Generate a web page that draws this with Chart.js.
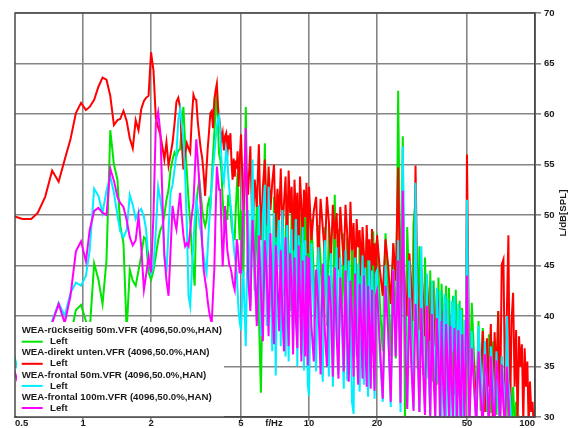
<!DOCTYPE html>
<html><head><meta charset="utf-8">
<script src="https://cdn.jsdelivr.net/npm/chart.js@4.4.1/dist/chart.umd.min.js"></script>
<style>html,body{margin:0;padding:0;background:#fff;}canvas{display:block;}</style>
</head><body>
<canvas id="c" width="569" height="428"></canvas>
<script>
// ---- frequency grid (Hz) ----
const freqLow = [
0.49,0.54,0.59,0.63,0.68,0.73,0.78,0.83,0.88,0.93,
0.98,1.03,1.07,1.12,1.17,1.22,1.27,1.32,1.37,1.42,
1.46,1.51,1.56,1.61,1.66,1.71,1.76,1.81,1.86,1.90,
1.95,2.00,2.05,2.10,2.15,2.20,2.25,2.29,2.34,2.39,
2.44,2.49,2.54,2.59,2.64,2.69,2.73,2.78,2.83,2.88,
2.93,2.98,3.03,3.08,3.12,3.17,3.22,3.27,3.32,3.37,
3.42,3.47,3.52,3.56,3.61,3.66,3.71,3.76,3.81,3.86,
3.91,3.96,4.00,4.05,4.10,4.15,4.20,4.25,4.30,4.35,
4.39,4.44,4.49,4.54,4.59,4.64,4.69,4.74,4.79,4.83,
4.88,4.93];
const freqHigh = [
5,5.125,5.25,5.375,5.5,5.625,5.75,5.875,6,6.125,
6.25,6.375,6.5,6.625,6.75,6.875,7,7.125,7.25,7.375,
7.5,7.625,7.75,7.875,8,8.125,8.25,8.375,8.5,8.625,
8.75,8.875,9,9.125,9.25,9.375,9.5,9.625,9.75,9.875,
10,10.25,10.5,10.75,11,11.25,11.5,11.75,12,12.25,
12.5,12.75,13,13.25,13.5,13.75,14,14.25,14.5,14.75,
15,15.25,15.5,15.75,16,16.25,16.5,16.75,17,17.25,
17.5,17.75,18,18.25,18.5,18.75,19,19.25,19.5,19.75,
20,20.6,21.2,21.8,22.4,23,23.6,24.2,24.8,25.4,
26,26.6,27.2,27.8,28.4,29,29.6,30.2,30.8,31.4,
32,32.6,33.2,33.8,34.4,35,35.6,36.2,36.8,37.4,
38,38.6,39.2,39.8,40.4,41,41.6,42.2,42.8,43.4,
44,44.6,45.2,45.8,46.4,47,47.6,48.2,48.8,49.4,
50,51.25,52.5,53.75,55,56.25,57.5,58.75,60,61.25,
62.5,63.75,65,66.25,67.5,68.75,70,71.25,72.5,73.75,
75,76.25,77.5,78.75,80,81.25,82.5,83.75,85,86.25,
87.5,88.75,90,91.25,92.5,93.75,95,96.25,97.5,98.75,
100];

// ---- series values (dB SPL) ----
const greenLow = [
28,29,30,31,32,33,34.5,36,38,40.6,
41.1,39.5,38.5,45.2,43.6,41.2,45.5,58.4,55.0,53.5,
49.0,47.2,38.5,44.6,43.5,43.0,44.5,46.0,47.8,47.6,
44.3,43.6,44.5,46.0,47.5,48.5,49.0,50.0,51.5,52.5,
54.5,55.5,56.2,55.8,56.4,56.5,58.5,60.7,57.0,54.2,
51.5,49.3,46.5,44.5,43.0,50.9,52.5,53.5,52.0,50.5,
49.5,48.9,49.5,50.9,51.5,50.5,53.5,56.0,58.1,60.5,
62.8,58.5,56.0,55.5,54.2,51.5,49.5,48.2,50.5,49.5,
52.0,51.0,50.9,49.0,48.2,47.6,47.6,50.5,52.6,54.2,
50.0,47.5];
const greenHigh = [
50.5,44.0,60.7,46.0,41.0,53.0,42.5,51.5,40.0,32.4,
45.0,57.1,46.5,52.5,44.0,39.5,51.8,42.5,52.2,47.0,
43.5,51.0,42.0,48.0,52.0,44.5,40.5,50.5,42.8,51.5,
46.0,43.0,50.8,41.5,50.2,44.5,40.8,51.0,43.0,49.5,
40.5,49.6,44.0,39.8,49.0,45.5,40.2,48.8,39.0,49.2,
44.5,38.8,52.0,40.0,48.6,45.0,38.5,48.2,39.2,47.8,
43.5,37.8,48.4,38.6,47.5,43.0,37.5,47.8,38.0,47.2,
42.5,37.0,47.6,34.4,46.8,41.5,36.2,48.4,35.8,47.0,
47.6,41.0,36.5,48.2,42.5,36.0,47.2,35.8,62.3,40.0,
57.8,30.0,48.8,42.0,35.2,49.2,51.4,34.8,46.9,40.5,
34.2,45.8,39.0,33.8,44.5,33.5,43.5,38.5,33.2,43.8,
33.0,43.2,37.5,32.8,43.0,32.6,42.8,37.0,32.5,42.0,
32.2,42.6,36.0,32.0,41.5,31.8,40.8,35.0,31.4,40.0,
40.5,31.0,41.3,36.0,30.8,39.5,30.6,38.8,34.5,30.5,
38.2,30.4,37.5,33.0,30.2,40.5,29.8,36.0,32.0,29.6,
35.2,29.4,34.0,29.2,33.0,29.0,31.5,28.5,29.5,28.0,
28.5,28.0,28.0,28.0,28.0,28.0,28.0,28.0,28.0,28.0,
28.0];

const redLow = [
49.9,49.6,49.6,50.2,51.8,54.4,53.3,55.5,57.5,60.1,
61.1,60.4,60.7,61.4,62.7,63.6,63.4,61.8,58.9,59.4,
59.5,60.3,59.3,57.6,56.6,59.4,58.4,60.5,61.3,61.6,
61.8,66.1,64.3,59.6,58.7,57.9,56.6,55.5,57.2,54.9,
56.0,57.2,59.0,61.2,61.6,60.6,57.5,54.5,56.0,57.1,
56.6,56.2,59.6,61.9,61.5,61.4,59.2,57.8,56.5,55.6,
54.0,51.9,54.6,56.5,58.2,60.1,60.3,58.6,61.4,62.3,
63.0,60.6,59.7,58.6,57.4,58.1,56.4,57.8,58.1,55.8,
57.9,56.5,58.1,55.2,53.5,55.6,53.8,55.4,54.6,56.3,
52.8,55.2];
const redHigh = [
58.0,50.5,55.2,52.0,56.8,48.0,53.5,50.8,57.0,47.5,
52.8,55.5,49.0,54.8,50.5,53.2,55.0,47.8,52.6,49.5,
54.6,48.2,51.2,53.8,47.0,54.4,50.2,52.8,46.5,53.5,
49.5,52.2,46.0,53.8,51.0,47.2,52.5,49.8,53.2,46.2,
52.8,47.5,50.4,51.8,45.2,51.6,48.8,46.0,51.8,49.2,
45.4,51.0,47.6,50.2,44.6,50.8,47.8,45.0,51.0,48.2,
44.2,51.3,46.5,49.2,43.6,49.6,46.8,48.5,44.0,48.8,
46.2,43.0,49.0,45.5,47.6,42.6,48.6,45.0,47.2,42.5,
48.0,44.5,42.0,47.6,45.0,41.2,47.2,43.5,54.7,40.5,
46.6,43.0,40.0,46.2,42.8,39.5,54.9,42.0,38.6,44.8,
41.5,38.0,44.0,40.8,37.5,43.4,40.0,37.0,42.6,39.2,
41.8,36.4,40.0,41.2,35.6,40.6,38.0,35.0,40.2,37.5,
39.6,34.6,37.8,39.0,34.2,38.6,36.5,33.8,38.2,36.0,
56.0,33.0,37.6,35.0,31.0,37.2,34.0,38.5,30.5,37.8,
33.0,39.2,30.0,38.4,34.0,40.5,29.5,45.1,45.6,32.0,
39.8,48.0,29.5,39.5,42.3,33.0,38.6,29.5,38.0,35.0,
37.2,29.5,36.8,33.0,35.5,29.0,33.5,30.5,31.5,29.0,
28.0];

const cyanLow = [
36.5,33,31,32,35,39.5,41.3,40.0,42.3,43.3,
43.0,44.0,46.5,52.6,51.9,50.2,52.4,53.8,52.2,50.0,
48.4,47.8,48.5,52.0,51.0,49.6,50.3,50.6,49.8,48.6,
45.5,44.2,44.9,48.5,52.8,51.5,49.8,46.0,44.3,48.5,
52.2,53.0,54.5,56.0,59.5,60.5,59.2,57.5,54.0,49.0,
42.0,41.0,44.5,47.2,49.5,51.5,50.5,49.2,48.4,47.0,
45.9,45.0,44.3,46.5,49.0,51.0,52.8,54.5,56.0,57.5,
58.8,59.5,59.8,58.0,55.5,53.8,53.2,54.8,56.5,55.8,
54.0,52.5,51.2,50.2,48.5,47.0,46.0,45.2,44.3,42.5,
40.5,39.5];
const cyanHigh = [
38.6,44.5,37.0,50.5,41.0,55.5,44.0,39.5,51.0,38.0,
50.0,53.0,39.0,52.8,45.0,36.5,50.2,34.1,47.0,49.5,
37.0,50.5,43.0,36.0,49.0,35.5,46.5,48.6,36.8,42.0,
49.6,35.0,48.0,44.0,36.2,48.8,34.6,47.5,41.5,33.2,
32.1,47.2,40.5,34.5,46.8,38.0,33.5,47.5,42.0,34.0,
46.2,33.0,40.5,46.8,34.2,45.8,38.5,32.8,46.5,33.6,
45.5,40.0,31.5,30.3,45.8,36.0,45.2,32.5,41.0,46.0,
33.2,44.8,38.5,32.0,45.5,33.0,44.5,39.5,31.8,44.2,
44.5,36.0,31.5,45.0,38.5,31.0,44.6,36.2,47.5,30.5,
56.8,38.0,31.0,45.5,35.5,30.8,53.2,38.2,30.5,46.9,
36.0,30.4,44.2,34.5,30.2,43.5,37.0,30.0,42.8,33.5,
42.5,30.0,38.5,42.2,29.8,41.8,35.0,29.6,41.5,36.5,
42.0,29.5,38.0,41.2,29.5,40.6,34.0,29.4,39.6,35.5,
51.5,29.5,38.5,33.0,29.5,39.0,35.0,29.4,37.5,32.0,
29.4,37.0,34.0,29.3,36.5,31.0,29.3,36.0,33.0,29.2,
40.0,33.5,32.0,28.5,28.0,28.0,28.0,28.0,28.0,28.0,
28.0,28.0,28.0,28.0,28.0,28.0,28.0,28.0,28.0,28.0,
28.0];

const magentaLow = [
35,32,29,30,34,39.3,41.2,39.3,42.0,46.4,
47.4,45.4,48.5,50.4,50.7,50.2,50.0,54.6,53.4,51.8,
51.2,50.8,49.5,47.8,47.0,47.5,49.9,46.8,42.6,44.0,
45.9,44.3,50.0,59.1,60.2,58.1,51.0,46.0,43.5,42.0,
46.5,50.9,49.5,48.6,50.5,52.2,50.0,48.0,46.9,47.2,
46.9,48.5,50.0,51.2,54.0,57.5,55.5,53.2,50.5,47.0,
44.6,43.5,42.6,41.5,40.5,39.8,39.3,42.0,44.6,50.0,
54.8,53.5,52.5,52.5,48.5,44.9,47.5,50.9,48.5,46.5,
45.9,45.0,44.8,44.3,43.5,43.0,42.6,45.0,47.6,47.0,
45.5,44.3];
const magentaHigh = [
44.3,50.9,58.6,44.0,40.5,49.5,45.0,39.0,48.0,42.5,
37.5,47.5,44.0,38.0,48.2,41.0,37.2,47.0,43.5,38.5,
46.5,40.0,36.5,47.8,42.0,37.0,46.2,43.5,36.2,45.8,
39.5,36.8,47.0,42.0,35.5,45.5,40.5,36.0,46.0,35.1,
45.8,39.0,35.5,44.6,41.0,34.2,45.2,38.5,35.0,44.0,
40.8,34.0,44.8,38.0,33.8,43.8,40.2,34.5,44.5,37.5,
33.5,43.5,40.0,34.0,44.2,37.2,33.2,43.2,39.5,33.8,
44.0,37.0,33.0,43.0,39.2,32.8,42.6,36.5,32.6,42.0,
42.5,37.0,31.8,43.0,38.5,31.5,44.5,36.0,45.5,31.4,
52.4,37.5,30.8,41.8,35.0,30.6,41.2,37.0,30.5,40.8,
34.5,30.2,41.0,36.5,30.0,40.2,33.8,30.0,39.8,36.0,
29.8,39.5,33.5,29.8,39.2,35.5,29.6,39.0,33.0,29.6,
38.8,35.0,29.5,38.6,32.5,29.5,38.2,34.5,29.3,37.6,
44.0,29.0,36.8,33.0,29.0,36.5,32.0,29.0,36.2,34.0,
29.0,36.0,31.5,29.0,35.6,33.5,29.0,35.2,31.0,29.0,
35.0,32.0,28.5,28.0,28.0,28.0,28.0,28.0,28.0,28.0,
28.0,28.0,28.0,28.0,28.0,28.0,28.0,28.0,28.0,28.0,
28.0];

// ---- labels ----
const seriesNames = [
  'WEA-rückseitig 50m.VFR (4096,50.0%,HAN)',
  'WEA-direkt unten.VFR (4096,50.0%,HAN)',
  'WEA-frontal 50m.VFR (4096,50.0%,HAN)',
  'WEA-frontal 100m.VFR (4096,50.0%,HAN)'
];
const channelLabel = 'Left';
const seriesColors = ['#00e400', '#ff0000', '#00eeff', '#ff00ff'];
const xTickValues = [0.5, 1, 2, 5, 7, 10, 20, 50, 100];
const xTickLabels = ['0.5', '1', '2', '5', 'f/Hz', '10', '20', '50', '100'];
const xGridValues = [1, 2, 5, 10, 20, 50];
const yTitle = 'L/dB[SPL]';

const freqs = freqLow.concat(freqHigh);
function pts(name, low, high) {
  const v = low.concat(high);
  if (v.length !== freqs.length) throw new Error(name + ' length ' + v.length + ' vs ' + freqs.length);
  return freqs.map((f, i) => ({x: f, y: v[i]}));
}
const allValues = [
  pts('green', greenLow, greenHigh),
  pts('red', redLow, redHigh),
  pts('cyan', cyanLow, cyanHigh),
  pts('magenta', magentaLow, magentaHigh)
];
const drawOrder = [3, 2, 1, 0];

const FONT = "'Liberation Sans', Arial, sans-serif";
const GRID = '#858585';
const FRAME = '#4a4a4a';
const TEXT = '#1a1a1a';

const overlay = {
  id: 'overlay',
  afterDatasetsDraw(chart) {
    const ctx = chart.ctx, ca = chart.chartArea;
    ctx.save();
    const bx = ca.left + 2, by = ca.bottom - 95;
    ctx.fillStyle = '#ffffff';
    ctx.fillRect(bx, by, 224 - bx, ca.bottom - by);
    ctx.font = 'bold 9.7px ' + FONT;
    ctx.textBaseline = 'middle';
    ctx.textAlign = 'left';
    for (let i = 0; i < seriesNames.length; i++) {
      const ty = by + 8.7 + i * 22.1;
      ctx.fillStyle = TEXT;
      ctx.fillText(seriesNames[i], ca.left + 6.7, ty);
      const ly = ty + 11;
      ctx.strokeStyle = seriesColors[i];
      ctx.lineWidth = 2;
      ctx.beginPath(); ctx.moveTo(ca.left + 6.7, ly); ctx.lineTo(ca.left + 27.7, ly); ctx.stroke();
      ctx.fillStyle = TEXT;
      ctx.fillText(channelLabel, ca.left + 35, ly);
    }
    ctx.strokeStyle = FRAME;
    ctx.lineWidth = 1.5;
    ctx.strokeRect(ca.left, ca.top, ca.right - ca.left, ca.bottom - ca.top);
    ctx.translate(563, 213);
    ctx.rotate(-Math.PI / 2);
    ctx.textAlign = 'center';
    ctx.fillStyle = TEXT;
    ctx.font = 'bold 9.7px ' + FONT;
    ctx.fillText(yTitle, 0, 0);
    ctx.restore();
  }
};

new Chart(document.getElementById('c'), {
  type: 'line',
  data: {
    datasets: allValues.map((d, i) => ({
      label: seriesNames[i],
      data: d,
      borderColor: seriesColors[i],
      backgroundColor: seriesColors[i],
      borderWidth: 2,
      pointRadius: 0,
      tension: 0,
      fill: false,
      clip: 0,
      order: drawOrder[i]
    }))
  },
  options: {
    responsive: false,
    animation: false,
    devicePixelRatio: 1,
    layout: {padding: {left: 15, top: 13, right: 0, bottom: 0}},
    plugins: {legend: {display: false}, tooltip: {enabled: false}},
    scales: {
      x: {
        type: 'logarithmic',
        min: 0.5, max: 100,
        afterBuildTicks: s => { s.ticks = xTickValues.map(v => ({value: v})); },
        afterFit: s => { s.height = 11; },
        ticks: {
          autoSkip: false, maxRotation: 0, minRotation: 0, align: 'inner',
          callback: (v, i) => xTickLabels[i],
          font: {family: FONT, size: 9.5, weight: 'bold'},
          color: TEXT, padding: -3
        },
        grid: {
          color: c => (c.tick && xGridValues.includes(c.tick.value)) ? GRID : 'rgba(0,0,0,0)',
          lineWidth: 1.6, tickLength: 4, drawTicks: true
        },
        border: {display: true, color: FRAME, width: 1.5}
      },
      y: {
        type: 'linear', position: 'right',
        min: 30, max: 70,
        afterFit: s => { s.width = 34; },
        ticks: {stepSize: 5, font: {family: FONT, size: 9.5, weight: 'bold'}, color: TEXT, padding: 3},
        grid: {color: GRID, lineWidth: 1.6, tickLength: 6},
        border: {display: true, color: FRAME, width: 1.5}
      }
    }
  },
  plugins: [overlay]
});
</script>
</body></html>
